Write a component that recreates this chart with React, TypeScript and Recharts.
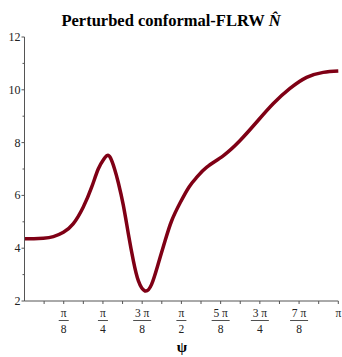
import React from "react";
import { LineChart, Line, XAxis, YAxis } from "recharts";

// psi in units of pi
const psi = [0, 0.03, 0.06, 0.092, 0.124, 0.155, 0.187, 0.214, 0.235, 0.252, 0.263, 0.274, 0.287, 0.299, 0.315, 0.331, 0.347, 0.363, 0.384, 0.405, 0.426, 0.448, 0.469, 0.496, 0.525, 0.55, 0.581, 0.634, 0.687, 0.74, 0.793, 0.846, 0.899, 0.952, 1.0];
const nHat = [4.36, 4.36, 4.38, 4.44, 4.6, 4.92, 5.55, 6.31, 7.0, 7.36, 7.51, 7.42, 7.0, 6.48, 5.62, 4.54, 3.52, 2.76, 2.38, 2.63, 3.4, 4.28, 5.04, 5.72, 6.33, 6.7, 7.07, 7.51, 8.08, 8.78, 9.48, 10.05, 10.47, 10.66, 10.71];

const xTicks = [1, 2, 3, 4, 5, 6, 7, 8, 9, 10, 11, 12, 13, 14, 15, 16].map((k) => k / 16);
const xTickNums = ["π", "π", "3 π", "π", "5 π", "3 π", "7 π", "π"];
const xTickDens = ["8", "4", "8", "2", "8", "4", "8", ""];
const yTicks = [2, 3, 4, 5, 6, 7, 8, 9, 10, 11, 12];

const data = psi.map((p, i) => ({ psi: p, n: nHat[i] }));

const AXIS = "#555";
const FONT = "'Liberation Serif', 'Times New Roman', serif";

const XTick = (props: any) => {
  const { x, y, payload } = props;
  const k = Math.round(payload.value * 16);
  const major = k % 2 === 0;
  const idx = k / 2 - 1;
  return (
    <g>
      <line x1={x} y1={y} x2={x} y2={y + 3} stroke={AXIS} strokeWidth={1} />
      {major && (
        <g fontFamily={FONT} fontSize={11.5} fill="#222">
          <text x={x} y={y + 16} textAnchor="middle">{xTickNums[idx]}</text>
          {xTickDens[idx] !== "" && (
            <>
              <line x1={x - (xTickNums[idx].length > 1 ? 9 : 5)} x2={x + (xTickNums[idx].length > 1 ? 9 : 5)} y1={y + 19.5} y2={y + 19.5} stroke="#222" strokeWidth={0.8} />
              <text x={x} y={y + 32} textAnchor="middle">{xTickDens[idx]}</text>
            </>
          )}
        </g>
      )}
    </g>
  );
};

const YTick = (props: any) => {
  const { x, y, payload } = props;
  const major = payload.value % 2 === 0;
  return (
    <g>
      <line x1={x} y1={y} x2={x - (major ? 3 : 2)} y2={y} stroke={AXIS} strokeWidth={1} />
      {major && (
        <text x={x - 4} y={y + 4} textAnchor="end" fontFamily={FONT} fontSize={12} fill="#222">
          {payload.value}
        </text>
      )}
    </g>
  );
};

export default function App() {
  return (
    <div style={{ position: "absolute", left: 0, top: 0, width: 342, height: 357, background: "#fff" }}>
      <LineChart width={342} height={357} data={data} margin={{ top: 37, right: 3.7, left: 0, bottom: 0 }}>
        <XAxis
          dataKey="psi"
          type="number"
          domain={[0, 1]}
          ticks={xTicks}
          interval={0}
          tickSize={0}
          tickMargin={0}
          height={56}
          stroke={AXIS}
          tick={<XTick />}
          tickLine={false}
        />
        <YAxis
          type="number"
          domain={[2, 12]}
          ticks={yTicks}
          interval={0}
          tickSize={0}
          tickMargin={0}
          width={24.5}
          stroke={AXIS}
          tick={<YTick />}
          tickLine={false}
        />
        <Line
          dataKey="n"
          type="natural"
          stroke="#7f0015"
          strokeWidth={3.5}
          dot={false}
          isAnimationActive={false}
        />
        <text x={171} y={26} textAnchor="middle" fontFamily={FONT} fontWeight="bold" fontSize={16.5} fill="#000">
          Perturbed conformal-FLRW <tspan fontStyle="italic">N̂</tspan>
        </text>
        <text x={182} y={352} textAnchor="middle" fontFamily={FONT} fontWeight="bold" fontSize={15} fill="#000">
          ψ
        </text>
      </LineChart>
    </div>
  );
}
